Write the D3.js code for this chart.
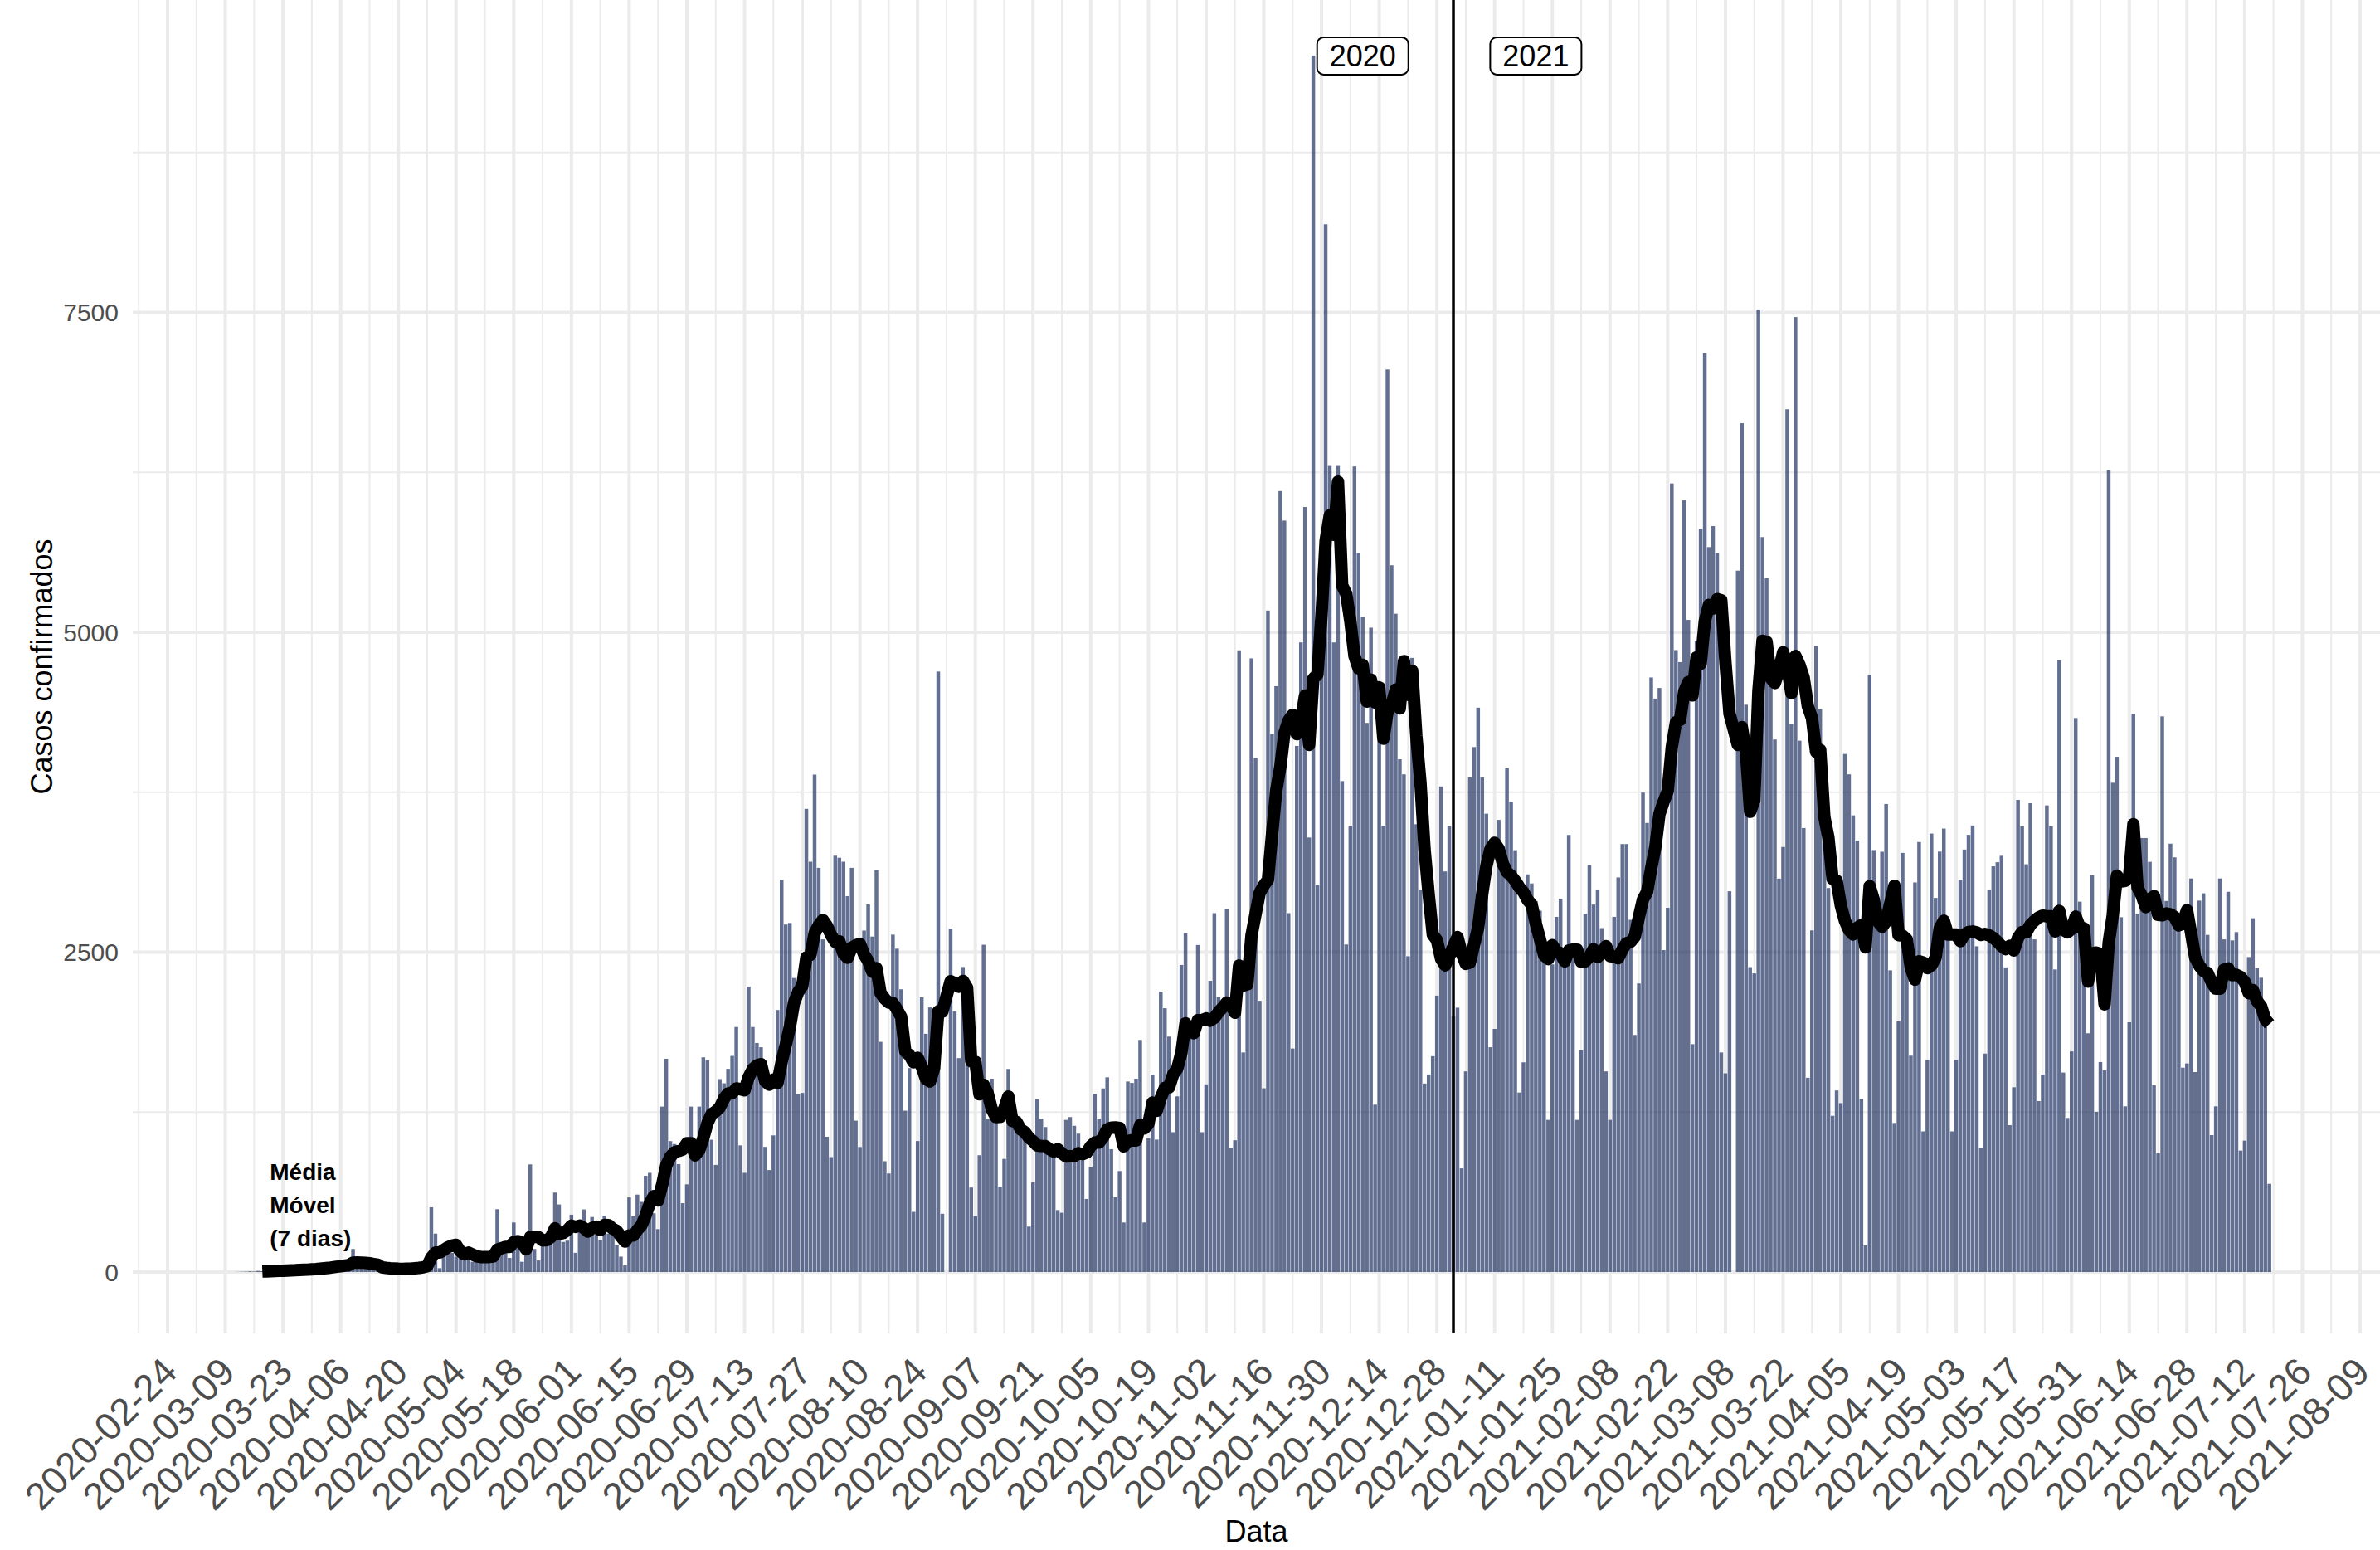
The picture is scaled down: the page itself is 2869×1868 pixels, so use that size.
<!DOCTYPE html>
<html>
<head>
<meta charset="utf-8">
<script src="https://cdn.jsdelivr.net/npm/d3@7"></script>
<style>
  body { margin: 0; background: #fff; }
  svg { display: block; font-family: "Liberation Sans", Arial, sans-serif; }
</style>
</head>
<body>
<svg id="chart" width="2869" height="1868"></svg>
<script>
//============================================================
// Dados: casos confirmados por dia (null = dia sem registro)
//------------------------------------------------------------

var inicio = '2020-03-12';

var casosMar2020 = [1,2,3,5,4,8,6,10,8,12,15,10,20,15,18,22,20,25,30,28];
var casosAbr2020 = [35,40,45,50,60,55,65,60,180,50,45,40,35,30,25,30,20,25,30,20,25,30,35,40,45,60,80,506,300,30];
var casosMai2020 = [180,200,150,120,150,140,120,80,100,110,120,150,170,491,160,170,110,387,200,80,130,841,180,90,200,220,240,621,528,235,245];
var casosJun2020 = [448,150,310,489,330,430,330,250,441,300,290,211,120,53,583,436,605,548,752,775,459,335,1293,1667,1023,1000,843,538,685,1293];
var casosJul2020 = [1000,1293,1678,1655,1034,837,1508,1475,1588,1689,1915,990,775,2231,1915,1790,1757,978,797,1068,2048,3066,2716,2728,2298,1388,1400,3620,3207,3888,3159];
var casosAgo2020 = [2600,1057,898,3254,3238,3207,2938,3159,1183,977,2669,2874,2622,3143,1799,866,770,2637,2527,2210,1261,1594,470,1024,2147,1862,2068,2000,4693,455,null];
var casosSet2020 = [2685,2036,1672,2384,1625,660,438,913,2558,1198,1511,1198,668,884,1587,1219,1143,1100,1057,355,700,1349,1198,1133,927,927,484,463,1189,1211];
var casosOut2020 = [1143,1081,873,571,819,1392,1198,1435,1522,960,584,789,387,1489,1478,1511,1814,387,1046,1543,1035,2192,2062,1840,1093,1373,2400,2649,1840,1870,2556];
var casosNov2020 = [1093,1467,2276,2805,2150,2120,2836,969,1030,4859,1716,2200,4796,4019,2120,1436,5170,4205,4579,6104,5873,2805,1747,4112,4921,5979,3396,9508,3023,5000];
var casosDez2020 = [8189,6300,4921,6300,3837,2560,3487,6296,5619,5121,4292,5036,1308,4315,3487,7054,5524,5145,4008,3890,2468,4800,3500,2990,1473,1544,1687,2160,3795,3131,3487];
var casosJan2021 = [2000,2066,810,1568,3866,4103,4411,3866,3582,1757,1900,3534,3300,3937,3676,3297,1403,1639,3108,3037,2900,2824,2421,1189,2404,2776,2918,2468,3416,2468,1189];
var casosFev2021 = [1734,2800,3179,2872,2990,2688,1568,1189,2776,3084,3345,3345,2753,1853,2255,3747,3510,4647,4482,4565,2516,2847,6163,4861,4767,6031,5097,1781];
var casosMar2021 = [4932,5808,7182,5666,5830,5620,1716,1553,2976,null,5482,6634,4434,2383,2334,7523,5744,5423,4656,4162,3075,3322,6743,4286,7464,4153,3470,1518,2670,4894,4400];
var casosAbr2021 = [3800,3001,1221,1419,1320,4049,3890,3569,3372,1355,208,4667,3298,2704,3285,3658,2358,1165,1960,3276,2500,1691,3045,3361,1099,1658,3427,2924,3286,3466];
var casosMai2021 = [2600,1099,1658,3065,3302,3417,3490,2546,967,1707,2990,3171,3203,3253,2381,1148,1444,3690,3483,3187,3664,2600,1336,1543,3647,3483,2365,4782,1559,1204,1724];
var casosJun2021 = [4330,2895,2311,1866,3102,1252,1641,1576,6267,3824,4027,2773,1295,1952,4364,2800,3392,3392,3206,1459,927,4343,2900,3348,3241,2743,1597,1630,3076,1563];
var casosJul2021 = [2903,2960,2635,1070,1295,3076,2600,2972,2592,2657,949,1027,2462,2765,2376,2300,1944,689];

var yTicks = [0, 2500, 5000, 7500];
var yMinor = [1250, 3750, 6250, 8750];
var primeiroTick = '2020-02-24';
var ultimoTick = '2021-08-09';

var marcoAno = '2021-01-01';
var rotulosAno = ['2020', '2021'];
var datasRotulos = ['2020-12-10', '2021-01-21'];
var textoMedia = ['Média', 'Móvel', '(7 dias)'];

//============================================================
// Layout
//------------------------------------------------------------

var width = 2869, height = 1868;
var margin = {top: 0, right: 0, bottom: 261, left: 160};
var panelBottom = height - margin.bottom;

var parse = d3.utcParse('%Y-%m-%d');
var fmt = d3.utcFormat('%Y-%m-%d');

var serie = [].concat(casosMar2020, casosAbr2020, casosMai2020, casosJun2020, casosJul2020,
  casosAgo2020, casosSet2020, casosOut2020, casosNov2020, casosDez2020, casosJan2021,
  casosFev2021, casosMar2021, casosAbr2021, casosMai2021, casosJun2021, casosJul2021);

var t0 = parse(inicio);
var dados = serie.map(function (v, i) {
  return {data: d3.utcDay.offset(t0, i), casos: v};
}).filter(function (d) { return d.casos !== null; });

// media movel de 7 registros, alinhada a direita
var media = [];
dados.forEach(function (d, i) {
  if (i < 6) { return; }
  media.push({data: d.data, valor: d3.mean(dados.slice(i - 6, i + 1), function (c) { return c.casos; })});
});

var x = d3.scaleUtc()
    .domain([new Date(Date.UTC(2020, 1, 15, 13, 6)), new Date(Date.UTC(2021, 7, 13, 20, 0))])
    .range([margin.left, width - margin.right]);

var y = d3.scaleLinear()
    .domain([-480, 9942])
    .range([panelBottom, margin.top]);

var svg = d3.select('#chart');
svg.append('rect').attr('width', width).attr('height', height).attr('fill', '#fff');

//------------------------------------------------------------
// grade

var grid = svg.append('g').attr('class', 'grid');

var semanas = d3.utcDay.range(d3.utcDay.offset(parse(primeiroTick), -7), x.domain()[1], 7);
var ticks = d3.utcDay.range(parse(primeiroTick), d3.utcDay.offset(parse(ultimoTick), 1), 14);

grid.selectAll('line.ymin').data(yMinor).enter().append('line')
    .attr('x1', margin.left).attr('x2', width - margin.right)
    .attr('y1', y).attr('y2', y)
    .attr('stroke', '#ebebeb').attr('stroke-width', 2);

grid.selectAll('line.xmin').data(semanas).enter().append('line')
    .attr('x1', x).attr('x2', x)
    .attr('y1', margin.top).attr('y2', panelBottom)
    .attr('stroke', '#ebebeb').attr('stroke-width', 2);

grid.selectAll('line.ymaj').data(yTicks).enter().append('line')
    .attr('x1', margin.left).attr('x2', width - margin.right)
    .attr('y1', y).attr('y2', y)
    .attr('stroke', '#ebebeb').attr('stroke-width', 4);

grid.selectAll('line.xmaj').data(ticks).enter().append('line')
    .attr('x1', x).attr('x2', x)
    .attr('y1', margin.top).attr('y2', panelBottom)
    .attr('stroke', '#ebebeb').attr('stroke-width', 4);

//------------------------------------------------------------
// barras

var dia = x(d3.utcDay.offset(t0, 1)) - x(t0);
var bw = dia * 0.9;

svg.append('g').attr('class', 'bars')
  .selectAll('rect').data(dados).enter().append('rect')
    .attr('x', function (d) { return x(d.data) - bw / 2; })
    .attr('width', bw)
    .attr('y', function (d) { return y(d.casos); })
    .attr('height', function (d) { return y(0) - y(d.casos); })
    .attr('fill', '#1f3263')
    .attr('fill-opacity', 0.7);

//------------------------------------------------------------
// virada do ano

svg.append('line')
    .attr('x1', x(parse(marcoAno))).attr('x2', x(parse(marcoAno)))
    .attr('y1', margin.top).attr('y2', panelBottom)
    .attr('stroke', '#000').attr('stroke-width', 3.5);

//------------------------------------------------------------
// media movel

var linha = d3.line()
    .x(function (d) { return x(d.data); })
    .y(function (d) { return y(d.valor); });

svg.append('path')
    .datum(media)
    .attr('d', linha)
    .attr('fill', 'none')
    .attr('stroke', '#000')
    .attr('stroke-width', 15)
    .attr('stroke-linejoin', 'round')
    .attr('stroke-linecap', 'butt');

var nota = svg.append('text')
    .attr('font-size', 28)
    .attr('font-weight', 'bold')
    .attr('fill', '#000');
nota.selectAll('tspan').data(textoMedia).enter().append('tspan')
    .attr('x', x(media[0].data) + 9)
    .attr('y', function (d, i) { return 1422 + i * 40; })
    .text(function (d) { return d; });

//------------------------------------------------------------
// rotulos 2020 / 2021

var ymax = d3.max(dados, function (d) { return d.casos; });
var rot = svg.selectAll('g.rotulo').data(rotulosAno).enter().append('g')
    .attr('class', 'rotulo')
    .attr('transform', function (d, i) { return 'translate(' + x(parse(datasRotulos[i])) + ',' + y(ymax) + ')'; });
rot.append('rect')
    .attr('x', -55).attr('y', -22).attr('width', 110).attr('height', 45)
    .attr('rx', 8).attr('fill', '#fff').attr('stroke', '#000').attr('stroke-width', 2);
rot.append('text')
    .attr('text-anchor', 'middle').attr('dy', '0.36em')
    .attr('font-size', 36).attr('fill', '#000')
    .text(function (d) { return d; });

//------------------------------------------------------------
// eixos

svg.append('g').selectAll('text').data(yTicks).enter().append('text')
    .attr('x', 143).attr('y', y).attr('dy', '0.36em')
    .attr('text-anchor', 'end')
    .attr('font-size', 30).attr('fill', '#4d4d4d')
    .text(function (d) { return d; });

svg.append('g').selectAll('text').data(ticks).enter().append('text')
    .attr('transform', function (d) { return 'translate(' + (x(d) + 14) + ',1656) rotate(-45)'; })
    .attr('text-anchor', 'end')
    .attr('font-size', 46).attr('fill', '#4d4d4d')
    .text(fmt);

svg.append('text')
    .attr('transform', 'translate(63,' + (panelBottom / 2) + ') rotate(-90)')
    .attr('text-anchor', 'middle')
    .attr('font-size', 36).attr('fill', '#000')
    .text('Casos confirmados');

svg.append('text')
    .attr('x', (margin.left + width - margin.right) / 2).attr('y', 1858)
    .attr('text-anchor', 'middle')
    .attr('font-size', 36).attr('fill', '#000')
    .text('Data');
</script>
</body>
</html>
